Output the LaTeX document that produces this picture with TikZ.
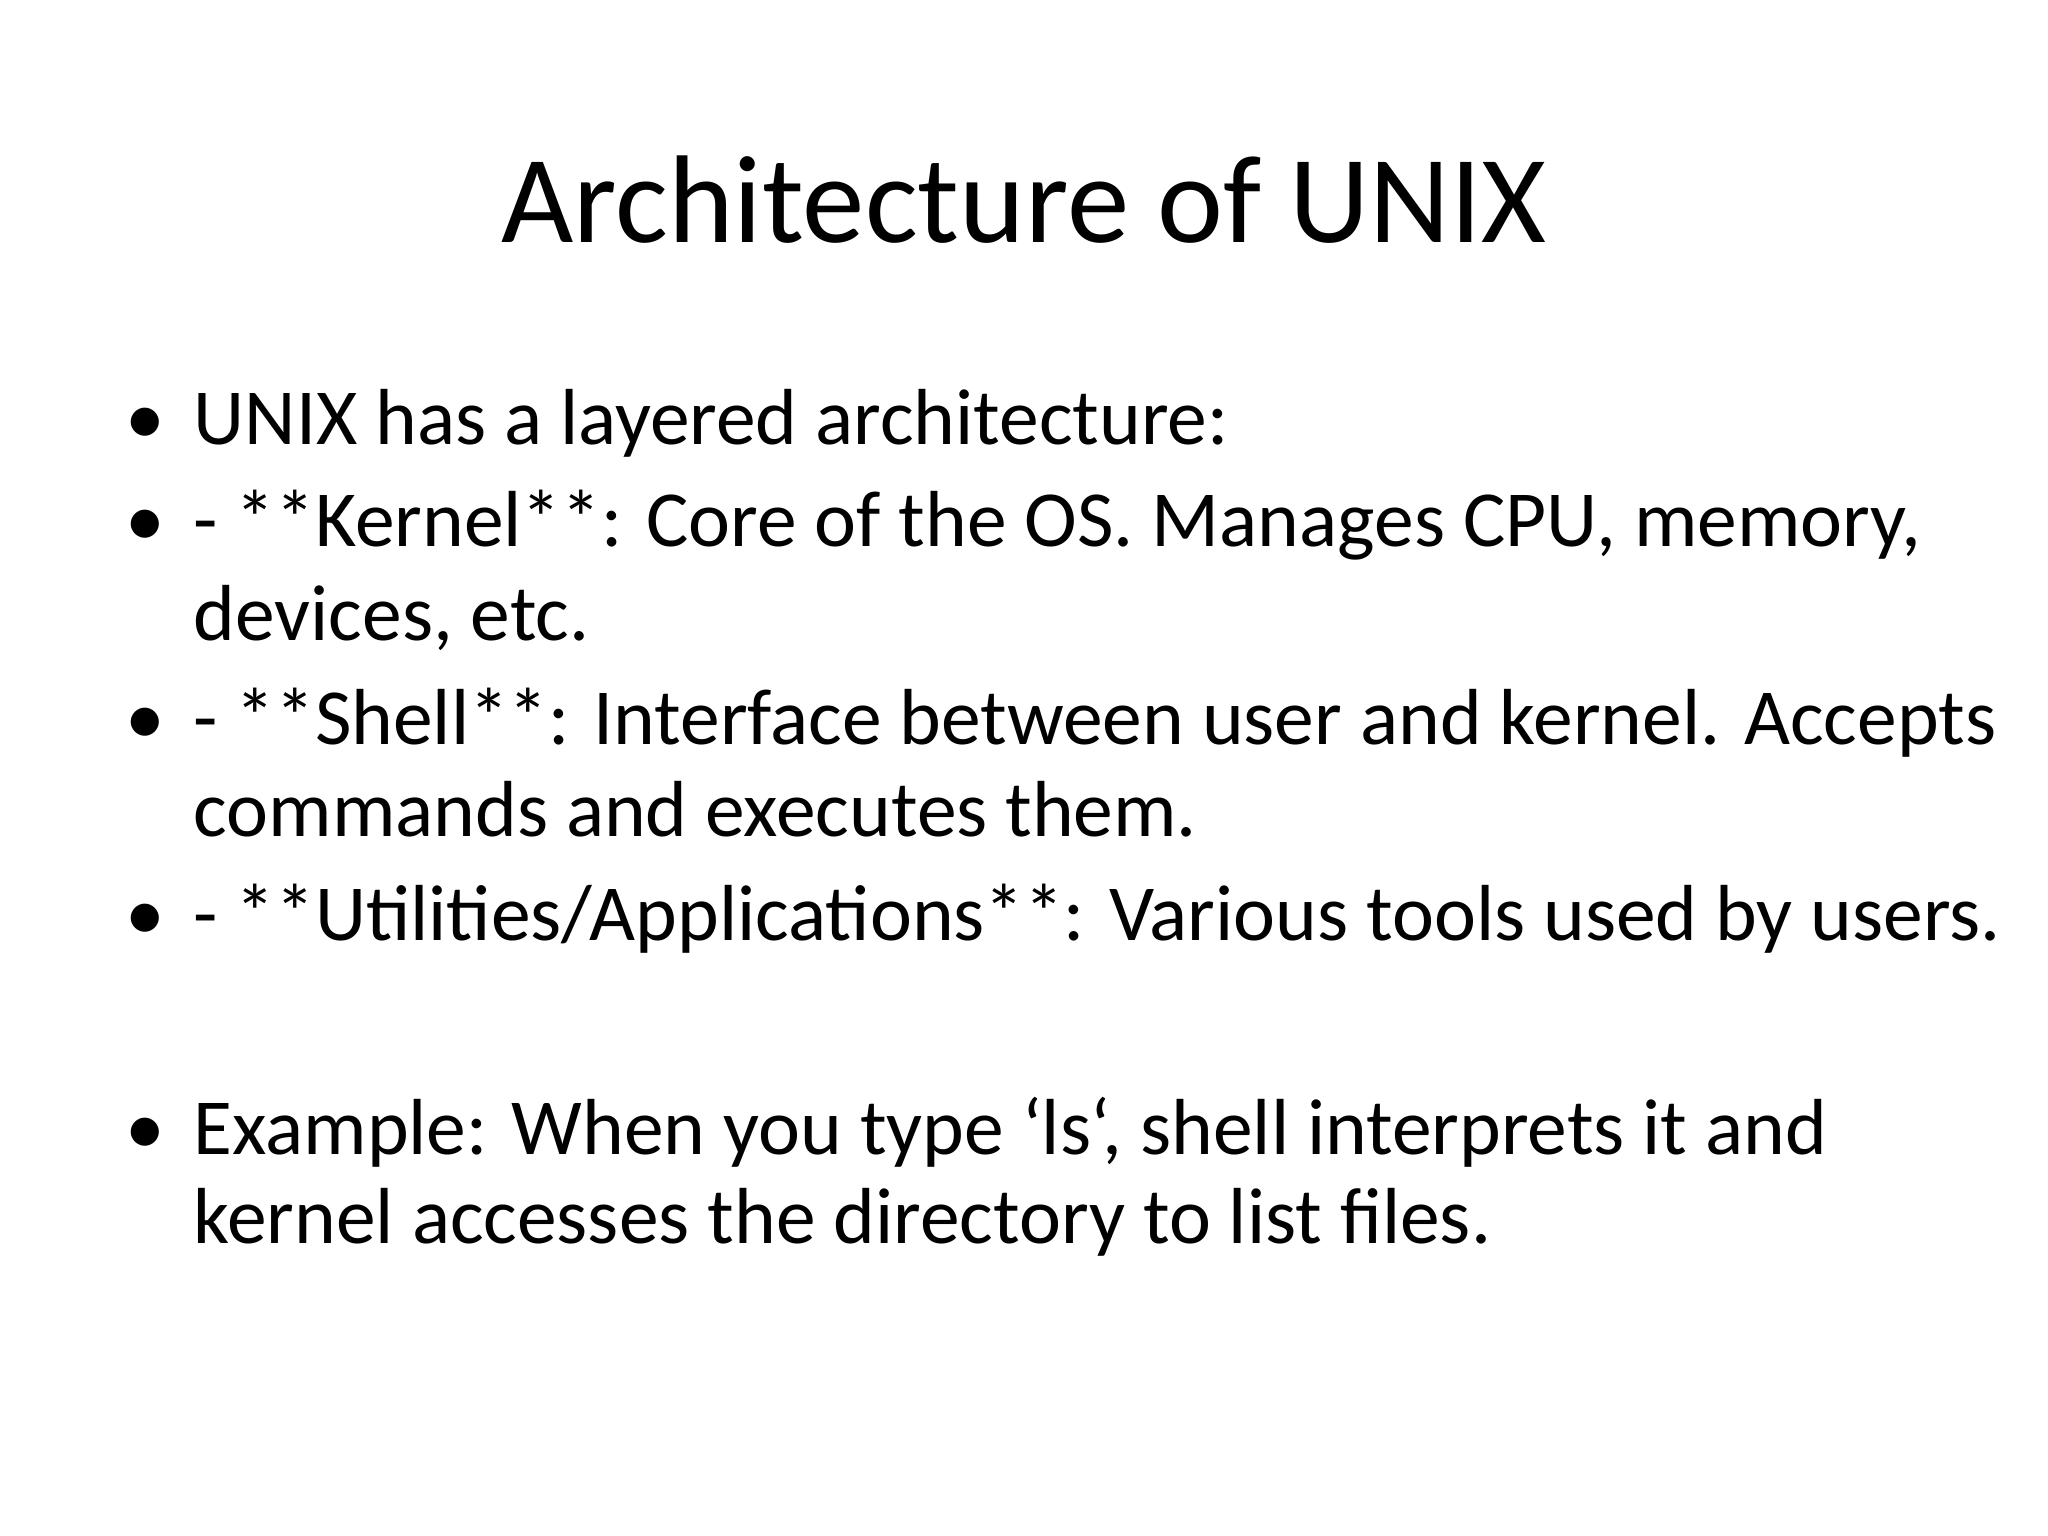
\documentclass[tikz,border=0pt]{standalone}
\usepackage{fontspec}
\setmainfont{Carlito}[Ligatures=Common]
\begin{document}
\begin{tikzpicture}[x=0.01cm,y=-0.01cm,
    txt/.style={anchor=base west, inner sep=0pt, font=\fontsize{22.6}{27}\selectfont},
    dot/.style={anchor=base west, inner sep=0pt, font=\fontsize{22.6}{27}\selectfont}]
        \def\bx{125}
        \def\tx{193}
        \useasboundingbox[fill=white] (0,0) rectangle (2048,1536);

        \node[anchor=base, inner sep=0pt, font=\fontsize{35.5}{40}\selectfont] (title) at (1024,242) {Architecture of UNIX};

        \node[dot] (b1) at (\bx,444) {•};
        \node[txt] (l1) at (\tx,444) {UNIX has a layered architecture:};
        \node[dot] (b2) at (\bx,546) {•};
        \node[txt] (l2) at (\tx,546) {- **Kernel**: Core of the OS. Manages CPU, memory,};
        \node[txt] (l3) at (\tx,640) {devices, etc.};
        \node[dot] (b3) at (\bx,744) {•};
        \node[txt] (l4) at (\tx,744) {- **Shell**: Interface between user and kernel. Accepts};
        \node[txt] (l5) at (\tx,836) {commands and executes them.};
        \node[dot] (b4) at (\bx,940) {•};
        \node[txt] (l6) at (\tx,940) {- **Utilities/Applications**: Various tools used by users.};
        \node[dot] (b5) at (\bx,1154) {•};
        \node[txt] (l7) at (\tx,1154) {Example: When you type \symbol{96}ls\symbol{96}, shell interprets it and};
        \node[txt] (l8) at (\tx,1243) {kernel accesses the directory to list files.};
\end{tikzpicture}
\end{document}
